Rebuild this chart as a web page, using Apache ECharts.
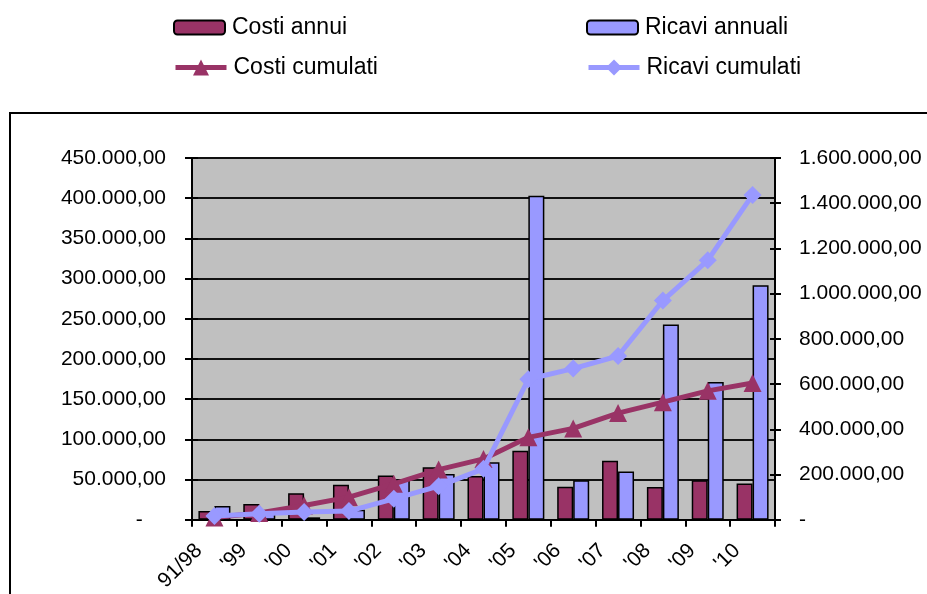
<!DOCTYPE html>
<html>
<head>
<meta charset="utf-8">
<script src="https://cdn.jsdelivr.net/npm/echarts@6/dist/echarts.min.js"></script>
<style>
  html, body { margin: 0; padding: 0; background: #fff; }
  #chart { width: 927px; height: 594px; }
</style>
</head>
<body>
<div id="chart"></div>
<script>
// Years (first label groups 1991-1998)
const categories = ["91/98", "'99", "'00", "'01", "'02", "'03", "'04", "'05", "'06", "'07", "'08", "'09", "'10"];

// Yearly costs and revenues (left axis)
const costiAnnui     = [10800, 19500, 33000, 43400, 54900, 65300, 54500, 85900, 40900, 73500, 40700, 49200, 45000];
const ricaviAnnuali  = [17000, 10000, 3000, 12400, 49600, 57000, 71500, 403000, 49200, 59900, 243000, 171400, 291600];

// Running totals (right axis)
const costiCumulati  = [10000, 29500, 63000, 100000, 158700, 221700, 269000, 364500, 404000, 471600, 520000, 570000, 605000];
const ricaviCumulati = [16300, 26400, 33900, 38300, 92500, 148500, 225000, 621400, 668500, 724300, 969600, 1147200, 1436800];

// Axis scales
const leftMax = 450000, leftStep = 50000;
const rightMax = 1600000, rightStep = 200000;

const MAROON = '#993366';
const PERIWINKLE = '#9999FF';
const FONT = '"Liberation Sans", Arial, sans-serif';

// Italian number format: 450.000,00 ; zero shown as a dash
function fmtIt(v) {
  if (v === 0) return '-    ';
  return String(Math.round(v)).replace(/\B(?=(\d{3})+(?!\d))/g, '.') + ',00';
}
function fmtItRight(v) {
  if (v === 0) return '-';
  return fmtIt(v);
}

const chart = echarts.init(document.getElementById('chart'), null, { renderer: 'canvas' });

const legendBase = {
  orient: 'horizontal',
  padding: 0,
  itemWidth: 51,
  itemHeight: 14,
  itemGap: 0,
  selectedMode: false,
  textStyle: { fontFamily: FONT, fontSize: 23, color: '#000', padding: [0, 0, 0, 2] }
};

const tickAxisBase = {
  type: 'value',
  axisLabel: { show: false },
  splitLine: { show: false },
  axisLine: { show: false },
  axisTick: { show: true, inside: true, length: 6, lineStyle: { color: '#000', width: 2 } }
};

chart.setOption({
  animation: false,
  backgroundColor: '#fff',
  graphic: [{
    type: 'rect',
    shape: { x: 10, y: 113, width: 1000, height: 600 },
    style: { fill: 'none', stroke: '#000', lineWidth: 2 },
    silent: true,
    z: -10
  }],
  legend: [
    Object.assign({}, legendBase, { data: ['Costi annui'], left: 173, top: 16 }),
    Object.assign({}, legendBase, { data: ['Ricavi annuali'], left: 586, top: 16 }),
    Object.assign({}, legendBase, {
      data: ['Costi cumulati'], left: 173, top: 56, itemHeight: 20,
      lineStyle: { width: 5 }
    }),
    Object.assign({}, legendBase, {
      data: ['Ricavi cumulati'], left: 586, top: 56, itemHeight: 20,
      lineStyle: { width: 5 }
    })
  ],
  grid: {
    left: 192, right: 152, top: 158, bottom: 73,
    show: true,
    backgroundColor: '#C0C0C0',
    borderWidth: 0
  },
  xAxis: {
    type: 'category',
    data: categories,
    boundaryGap: true,
    axisLine: { show: true, lineStyle: { color: '#000', width: 2 } },
    axisTick: { show: true, alignWithLabel: false, length: 7, lineStyle: { color: '#000', width: 2 } },
    axisLabel: {
      interval: 0,
      rotate: 45,
      margin: 12,
      padding: [0, 22, 0, 0],
      fontFamily: FONT,
      fontSize: 21,
      color: '#000'
    },
    splitLine: { show: false }
  },
  yAxis: [
    {
      type: 'value',
      position: 'left',
      min: 0, max: leftMax, interval: leftStep,
      axisLine: { show: true, lineStyle: { color: '#000', width: 2 } },
      axisTick: { show: true, length: 7, lineStyle: { color: '#000', width: 2 } },
      axisLabel: { margin: 26, fontFamily: FONT, fontSize: 21, color: '#000', formatter: fmtIt },
      splitLine: { show: true, lineStyle: { color: '#111', width: 2 } }
    },
    {
      type: 'value',
      position: 'right',
      min: 0, max: rightMax, interval: rightStep,
      axisLine: { show: true, lineStyle: { color: '#000', width: 2 } },
      axisTick: { show: true, length: 6, lineStyle: { color: '#000', width: 2 } },
      axisLabel: { margin: 24, fontFamily: FONT, fontSize: 21, color: '#000', formatter: fmtItRight },
      splitLine: { show: false }
    },
    Object.assign({}, tickAxisBase, { position: 'left', min: 0, max: leftMax, interval: leftStep }),
    Object.assign({}, tickAxisBase, { position: 'right', min: 0, max: rightMax, interval: rightStep, axisTick: { show: true, inside: true, length: 5, lineStyle: { color: '#000', width: 2 } } })
  ],
  series: [
    {
      name: 'Costi annui',
      type: 'bar',
      yAxisIndex: 0,
      data: costiAnnui,
      barWidth: 16,
      barGap: '0%',
      itemStyle: { color: MAROON, borderColor: '#000', borderWidth: 1.5 },
      z: 2
    },
    {
      name: 'Ricavi annuali',
      type: 'bar',
      yAxisIndex: 0,
      data: ricaviAnnuali,
      barWidth: 16,
      barGap: '0%',
      itemStyle: { color: PERIWINKLE, borderColor: '#000', borderWidth: 1.5 },
      z: 2
    },
    {
      name: 'Costi cumulati',
      type: 'line',
      yAxisIndex: 1,
      data: costiCumulati,
      symbol: 'triangle',
      symbolSize: 18,
      showAllSymbol: true,
      lineStyle: { color: MAROON, width: 5 },
      itemStyle: { color: MAROON },
      z: 3
    },
    {
      name: 'Ricavi cumulati',
      type: 'line',
      yAxisIndex: 1,
      data: ricaviCumulati,
      symbol: 'diamond',
      symbolSize: 18,
      showAllSymbol: true,
      lineStyle: { color: PERIWINKLE, width: 5 },
      itemStyle: { color: PERIWINKLE },
      z: 4
    }
  ]
});
</script>
</body>
</html>
